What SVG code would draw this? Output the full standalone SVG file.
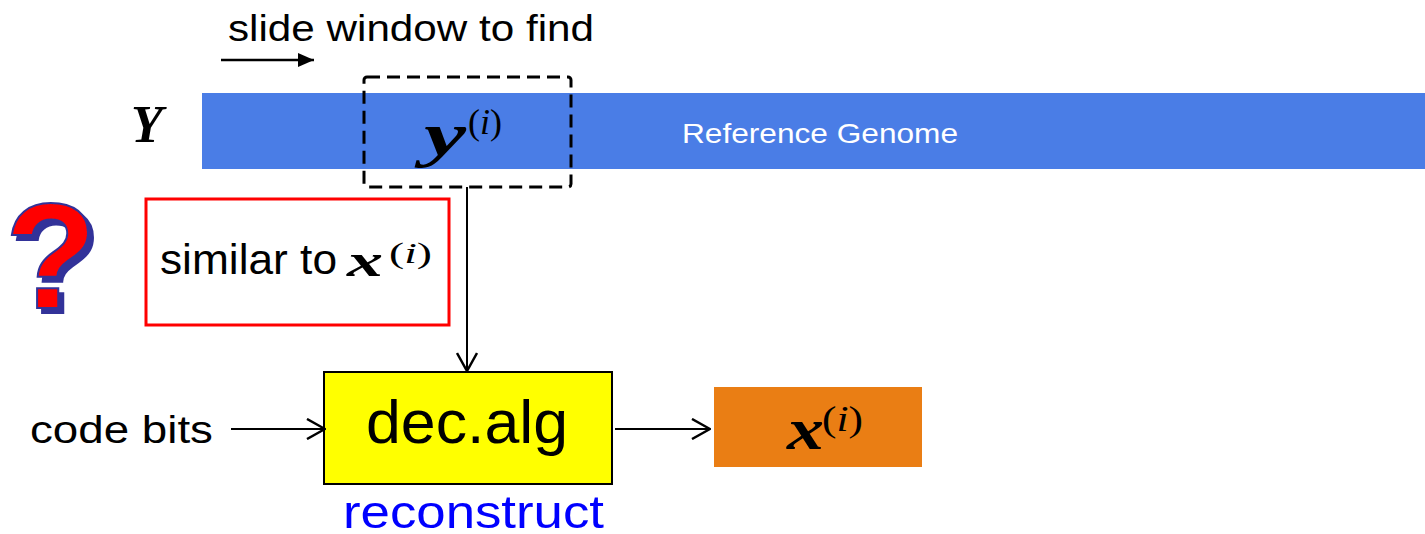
<svg xmlns="http://www.w3.org/2000/svg" width="1425" height="534" viewBox="0 0 1425 534">
  <style>
    .sans { font-family: "Liberation Sans", Arial, sans-serif; }
    .mathb { font-family: "Liberation Serif", "Times New Roman", serif; font-weight: bold; font-style: italic; }
    .sup { font-family: "Liberation Serif", "Times New Roman", serif; }
    .it { font-style: italic; }
    .conn { stroke: #000; stroke-width: 2; fill: none; }
  </style>
  <defs>
    <marker id="open" viewBox="0 0 20 22" refX="19" refY="11" markerWidth="20" markerHeight="22" markerUnits="userSpaceOnUse" orient="auto">
      <path d="M1,1 L19,11 L1,21" fill="none" stroke="#000" stroke-width="2.5"/>
    </marker>
    <marker id="solid" viewBox="0 0 16 14" refX="16" refY="7" markerWidth="16" markerHeight="14" markerUnits="userSpaceOnUse" orient="auto">
      <path d="M0,0 L16,7 L0,14 Z" fill="#000"/>
    </marker>
    <filter id="qshadow" x="-20%" y="-20%" width="150%" height="150%">
      <feOffset in="SourceAlpha" dx="5" dy="5" result="off"/>
      <feFlood flood-color="#333399"/>
      <feComposite in2="off" operator="in" result="shadow"/>
      <feMerge>
        <feMergeNode in="shadow"/>
        <feMergeNode in="SourceGraphic"/>
      </feMerge>
    </filter>
  </defs>

  <rect width="1425" height="534" fill="#fff"/>

  <g id="slide-label">
    <text class="sans" x="228" y="41" font-size="37" textLength="366" lengthAdjust="spacingAndGlyphs">slide window to find</text>
  </g>

  <g id="reference-genome">
    <rect x="202" y="93" width="1223" height="76" fill="#4A7DE6"/>
    <text class="sans" x="682" y="143" font-size="28" fill="#fff" textLength="276" lengthAdjust="spacingAndGlyphs">Reference Genome</text>
  </g>

  <g id="Y-label">
    <text class="mathb" x="131" y="142" font-size="52">Y</text>
  </g>

  <g id="window">
    <rect x="364" y="77" width="207" height="110" rx="3" fill="none" stroke="#000" stroke-width="3" stroke-dasharray="13 7"/>
    <text class="mathb" x="424" y="155" font-size="62" textLength="42" lengthAdjust="spacingAndGlyphs">y</text>
    <text class="sup" x="468" y="134" font-size="36">(<tspan class="it">i</tspan>)</text>
  </g>

  <g id="question">
    <text x="5" y="308" font-family="'Liberation Sans', Arial, sans-serif" font-weight="bold" font-size="150" fill="#FF0000" stroke="#333399" stroke-width="2" filter="url(#qshadow)">?</text>
  </g>

  <g id="similar">
    <rect x="146" y="199" width="303" height="126" fill="none" stroke="#FF0000" stroke-width="3"/>
    <text class="sans" x="160" y="274" font-size="42" textLength="177" lengthAdjust="spacingAndGlyphs">similar to</text>
    <text class="mathb" x="347" y="276" font-size="46" textLength="36" lengthAdjust="spacingAndGlyphs">x</text>
    <text class="sup" x="389" y="263" font-size="30" textLength="43" lengthAdjust="spacingAndGlyphs">(<tspan class="it">i</tspan>)</text>
  </g>

  <g id="decalg">
    <rect x="324" y="372" width="288" height="112" fill="#FFFF00" stroke="#000" stroke-width="2"/>
    <text class="sans" x="366" y="443" font-size="61" textLength="202" lengthAdjust="spacingAndGlyphs">dec.alg</text>
  </g>

  <g id="reconstruct">
    <text class="sans" x="343" y="528" font-size="47" fill="#0000FF" textLength="261" lengthAdjust="spacingAndGlyphs">reconstruct</text>
  </g>

  <g id="code-bits">
    <text class="sans" x="30" y="443" font-size="39" textLength="183" lengthAdjust="spacingAndGlyphs">code bits</text>
  </g>

  <g id="output">
    <rect x="714" y="387" width="208" height="80" fill="#EA7E14"/>
    <text class="mathb" x="787" y="449" font-size="60" textLength="37" lengthAdjust="spacingAndGlyphs">x</text>
    <text class="sup" x="822" y="431" font-size="36" textLength="41" lengthAdjust="spacingAndGlyphs">(<tspan class="it">i</tspan>)</text>
  </g>

  <g id="connectors">
    <line x1="221" y1="60" x2="314" y2="60" stroke="#000" stroke-width="2.5" marker-end="url(#solid)"/>
    <line class="conn" x1="467" y1="187" x2="467" y2="371" marker-end="url(#open)"/>
    <line class="conn" x1="231" y1="429" x2="325" y2="429" marker-end="url(#open)"/>
    <line class="conn" x1="615" y1="429" x2="710" y2="429" marker-end="url(#open)"/>
  </g>
</svg>
